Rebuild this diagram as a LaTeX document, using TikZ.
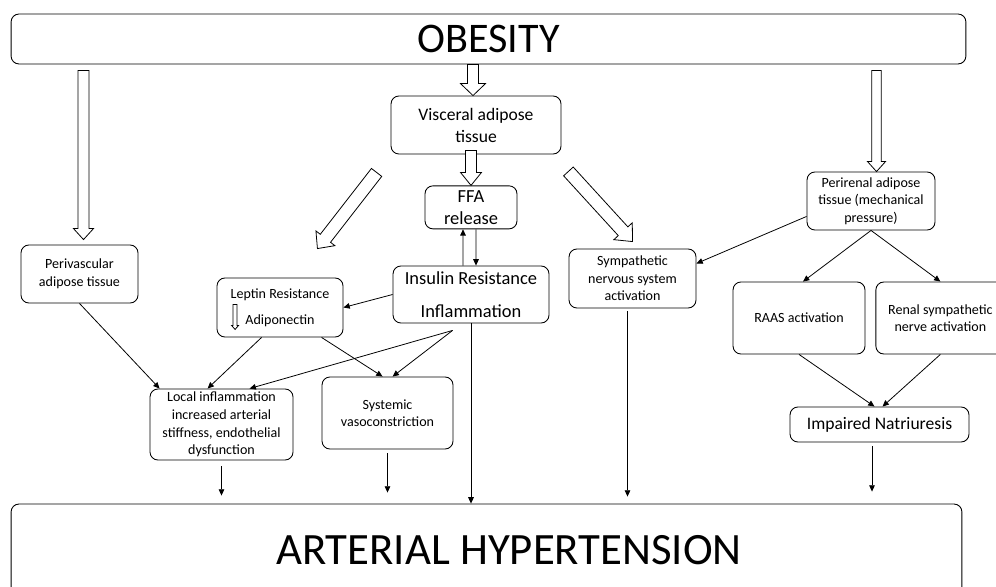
\documentclass[tikz,border=0pt]{standalone}
\usepackage{fontspec}
\setmainfont{Carlito}
\usepackage{tikz}
\usetikzlibrary{calc}
\usetikzlibrary{arrows.meta}
\usetikzlibrary{positioning}
\tikzstyle{block} = [rectangle, draw, rounded corners=4.5pt, align=center,
 inner sep=1pt, line width=0.5pt]
\tikzstyle{smalltext} = [font=\fontsize{8}{10}\selectfont]
\tikzstyle{midtext} = [font=\fontsize{10}{12.5}\selectfont]
\tikzstyle{bigtext} = [font=\fontsize{24}{28}\selectfont]
\tikzstyle{link} = [line width=0.45pt, -{Triangle[length=3.6pt,width=3.2pt]}]
\tikzstyle{hollow} = [draw, fill=white, line width=0.45pt, line join=miter]
\newcommand{\fatarrow}[5]{%
 \path ($(#2)!#5!(#1)$) coordinate (fa-base);
 \draw[hollow] ($(#1)!#3!90:(#2)$) -- ($(fa-base)!#3!90:(#2)$) -- ($(fa-base)!#4!90:(#2)$)
  -- (#2) -- ($(fa-base)!#4!-90:(#2)$) -- ($(fa-base)!#3!-90:(#2)$) -- ($(#1)!#3!-90:(#2)$) -- cycle;}
\begin{document}
\begin{tikzpicture}[x=0.02cm, y=-0.02cm]
\useasboundingbox (0,0) rectangle (996,587);

\node[block, bigtext, minimum width=19.1cm, minimum height=1cm] (obesity) at (488.5,39) {OBESITY};
\node[block, font=\fontsize{25.5}{30}\selectfont, minimum width=19.02cm, minimum height=1.84cm] (hyper) at (486.5,550) {\hspace*{0.9cm}ARTERIAL HYPERTENSION};

\node[block, midtext, minimum width=3.4cm, minimum height=1.16cm] (visceral) at (476,125) {Visceral adipose\\tissue};
\node[block, font=\fontsize{10.5}{12.5}\selectfont, minimum width=1.84cm, minimum height=0.86cm,
 below = 0.62cm of visceral, xshift=-0.1cm] (ffa) {FFA\\release};
\node[block, font=\fontsize{10.5}{12.8}\selectfont, minimum width=3.12cm, minimum height=1.14cm] (insulin) at (471,294.5) {Insulin Resistance\\[6pt]Inflammation};
\node[block, smalltext, minimum width=2.34cm, minimum height=1.16cm] (perivasc) at (79.5,274) {Perivascular\\adipose tissue};
\node[block, smalltext, minimum width=2.52cm, minimum height=1.18cm] (leptin) at (280,307.5) {Leptin Resistance\\[5pt]Adiponectin};
\node[block, smalltext, minimum width=2.86cm, minimum height=1.42cm] (local) at (221.5,424.5) {Local inflammation\\increased arterial\\stiffness, endothelial\\dysfunction};
\node[block, smalltext, minimum width=2.62cm, minimum height=1.44cm] (systemic) at (387.5,413) {Systemic\\vasoconstriction};
\node[block, smalltext, minimum width=2.54cm, minimum height=1.18cm] (sympath) at (632.5,278.5) {Sympathetic\\nervous system\\activation};
\node[block, smalltext, minimum width=2.56cm, minimum height=1.16cm] (perirenal) at (871,201) {Perirenal adipose\\tissue (mechanical\\pressure)};
\node[block, smalltext, minimum width=2.64cm, minimum height=1.44cm] (raas) at (799,318) {RAAS activation};
\node[block, smalltext, minimum width=2.58cm, minimum height=1.44cm, right = 0.2cm of raas] (renal) {Renal sympathetic\\nerve activation};
\node[block, midtext, minimum width=3.58cm, minimum height=0.7cm] (impaired) at (879.5,424.5) {Impaired Natriuresis};

\coordinate (visc-tip) at ([xshift=-0.06cm]visceral.north);
\coordinate (visc-tail) at (visc-tip |- obesity.south);
\fatarrow{visc-tail}{visc-tip}{0.11cm}{0.25cm}{0.24cm}
\coordinate (ffa-tip) at (ffa.north);
\coordinate (ffa-tail) at ([yshift=0.08cm]ffa.north |- visceral.south);
\fatarrow{ffa-tail}{ffa-tip}{0.11cm}{0.21cm}{0.26cm}
\coordinate (peri-tip) at ([xshift=0.08cm,yshift=0.1cm]perivasc.north);
\coordinate (peri-tail) at ([yshift=-0.12cm]peri-tip |- obesity.south);
\fatarrow{peri-tail}{peri-tip}{0.11cm}{0.2cm}{0.22cm}
\coordinate (pren-tip) at ([xshift=0.11cm]perirenal.north);
\coordinate (pren-tail) at ([yshift=-0.12cm]pren-tip |- obesity.south);
\fatarrow{pren-tail}{pren-tip}{0.094cm}{0.18cm}{0.2cm}
\coordinate (lep-tail) at ([xshift=-0.28cm,yshift=-0.36cm]visceral.south west);
\coordinate (lep-tip) at ([xshift=-0.52cm,yshift=0.58cm]leptin.north east);
\fatarrow{lep-tail}{lep-tip}{0.13cm}{0.24cm}{0.26cm}
\coordinate (sym-tail) at ([xshift=0.14cm,yshift=-0.34cm]visceral.south east);
\coordinate (sym-tip) at ([yshift=0.14cm]sympath.north);
\fatarrow{sym-tail}{sym-tip}{0.13cm}{0.25cm}{0.28cm}
\coordinate (adipo-tail) at ([xshift=0.37cm,yshift=0.66cm]leptin.south west);
\coordinate (adipo-tip) at ([xshift=0.37cm,yshift=0.16cm]leptin.south west);
\fatarrow{adipo-tail}{adipo-tip}{0.04cm}{0.07cm}{0.08cm}

\draw[link] (perivasc.south) -- ([xshift=0.2cm]local.north west);
\draw[link] ([xshift=0.9cm]leptin.south west) -- ([xshift=1.16cm]local.north west);
\draw[link] ([xshift=2.1cm]leptin.south west) -- ([xshift=1.22cm]systemic.north west);
\coordinate (ins-fork) at ([xshift=1.2cm,yshift=-0.14cm]insulin.south west);
\draw[link] (ins-fork) -- ([xshift=2cm]local.north west);
\draw[link] (ins-fork) -- ([xshift=1.42cm]systemic.north west);
\draw[link] (insulin.west) -- (leptin.east);
\draw[link] ([xshift=-0.16cm]insulin.north) -- ([xshift=-0.16cm]ffa.south);
\draw[link] ([xshift=0.1cm]ffa.south) -- ([xshift=0.1cm]insulin.north);
\draw[link] ([yshift=0.28cm]perirenal.south west) -- ([yshift=0.3cm]sympath.east);
\draw[link] (perirenal.south) -- ([xshift=0.08cm]raas.north);
\draw[link] (perirenal.south) -- (renal.north);
\draw[link] (raas.south) -- ([xshift=-0.1cm]impaired.north);
\draw[link] (renal.south) -- ([xshift=0.06cm]impaired.north);

\draw[link, shorten <=0.12cm, shorten >=0.16cm] (local.south) -- (local.south |- hyper.north);
\draw[link, shorten <=0.08cm, shorten >=0.22cm] (systemic.south) -- (systemic.south |- hyper.north);
\draw[link] (insulin.south) -- (insulin.south |- hyper.north);
\draw[link, shorten <=0.06cm, shorten >=0.14cm] ([xshift=-0.1cm]sympath.south) -- ([xshift=-0.1cm]sympath.south |- hyper.north);
\draw[link, shorten <=0.08cm, shorten >=0.24cm] ([xshift=-0.15cm]impaired.south) -- ([xshift=-0.15cm]impaired.south |- hyper.north);

\end{tikzpicture}
\end{document}
